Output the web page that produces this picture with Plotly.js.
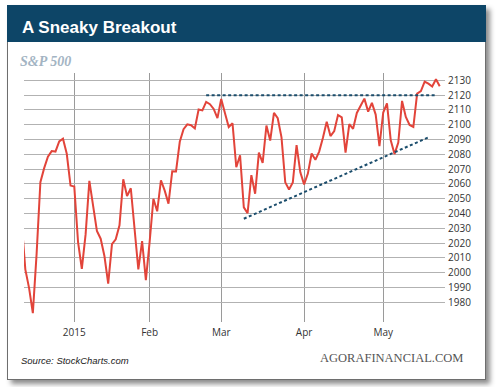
<!DOCTYPE html>
<html>
<head>
<meta charset="utf-8">
<script src="https://cdn.plot.ly/plotly-3.0.1.min.js"></script>
<style>
  html, body { margin: 0; padding: 0; background: #ffffff; }
  #wrap { position: relative; width: 500px; height: 387px; overflow: hidden; background: #ffffff; }
  #card { position: absolute; left: 7px; top: 5px; width: 479px; height: 375px; box-sizing: border-box;
          border: 1px solid #6e6e6e; background: #ffffff; box-shadow: 4px 4px 5px rgba(0,0,0,0.45); }
  #band { position: absolute; left: 7px; top: 5px; width: 479px; height: 37px; background: #0d4567; }
  #chart { position: absolute; left: 0; top: 0; width: 500px; height: 387px; }
</style>
</head>
<body>
<div id="wrap">
  <div id="card"></div>
  <div id="band"></div>
  <div id="chart"></div>
</div>
<script>
// Trading days (Dec 11, 2014 – May 22, 2015)
var dates = [
  '2014-12-11','2014-12-12','2014-12-15','2014-12-16','2014-12-17','2014-12-18','2014-12-19','2014-12-22','2014-12-23','2014-12-24','2014-12-26','2014-12-29','2014-12-30','2014-12-31',
  '2015-01-02','2015-01-05','2015-01-06','2015-01-07','2015-01-08','2015-01-09','2015-01-12','2015-01-13','2015-01-14','2015-01-15','2015-01-16','2015-01-20','2015-01-21','2015-01-22','2015-01-23','2015-01-26','2015-01-27','2015-01-28','2015-01-29','2015-01-30',
  '2015-02-02','2015-02-03','2015-02-04','2015-02-05','2015-02-06','2015-02-09','2015-02-10','2015-02-11','2015-02-12','2015-02-13','2015-02-17','2015-02-18','2015-02-19','2015-02-20','2015-02-23','2015-02-24','2015-02-25','2015-02-26','2015-02-27',
  '2015-03-02','2015-03-03','2015-03-04','2015-03-05','2015-03-06','2015-03-09','2015-03-10','2015-03-11','2015-03-12','2015-03-13','2015-03-16','2015-03-17','2015-03-18','2015-03-19','2015-03-20','2015-03-23','2015-03-24','2015-03-25','2015-03-26','2015-03-27','2015-03-30','2015-03-31',
  '2015-04-01','2015-04-02','2015-04-06','2015-04-07','2015-04-08','2015-04-09','2015-04-10','2015-04-13','2015-04-14','2015-04-15','2015-04-16','2015-04-17','2015-04-20','2015-04-21','2015-04-22','2015-04-23','2015-04-24','2015-04-27','2015-04-28','2015-04-29','2015-04-30',
  '2015-05-01','2015-05-04','2015-05-05','2015-05-06','2015-05-07','2015-05-08','2015-05-11','2015-05-12','2015-05-13','2015-05-14','2015-05-15','2015-05-18','2015-05-19','2015-05-20','2015-05-21','2015-05-22'
];
var closes = [
  2035.3, 2002.3, 1989.6, 1972.7, 2012.9, 2061.2, 2070.7, 2078.5, 2082.2, 2081.9, 2088.8, 2090.6, 2080.4, 2058.9,
  2058.2, 2020.6, 2002.6, 2025.9, 2062.1, 2044.8, 2028.3, 2023.0, 2011.3, 1992.7, 2019.4, 2022.6, 2032.1, 2063.2, 2051.8, 2057.1, 2029.6, 2002.2, 2021.3, 1995.0,
  2020.9, 2050.0, 2041.5, 2062.5, 2055.5, 2046.7, 2068.6, 2068.5, 2088.5, 2097.0, 2100.3, 2099.7, 2097.5, 2110.3, 2109.7, 2115.5, 2113.9, 2110.7, 2104.5,
  2117.4, 2107.8, 2098.5, 2101.0, 2071.3, 2079.4, 2044.2, 2040.2, 2066.0, 2053.4, 2081.2, 2074.3, 2099.5, 2089.3, 2108.1, 2104.4, 2091.5, 2061.1, 2056.2, 2061.0, 2086.2, 2067.9,
  2059.7, 2067.0, 2080.6, 2076.3, 2081.9, 2091.2, 2102.1, 2092.4, 2095.8, 2106.6, 2105.0, 2081.2, 2100.4, 2097.3, 2108.0, 2112.9, 2117.7, 2108.9, 2114.8, 2106.9, 2085.5,
  2108.3, 2114.5, 2089.5, 2080.2, 2088.0, 2116.1, 2105.3, 2099.9, 2098.5, 2121.1, 2122.7, 2129.2, 2127.8, 2125.9, 2130.8, 2126.1
];
// Trend lines drawn on the chart
var resistanceDates = ['2015-02-24', '2015-05-21'];
var resistanceLevels = [2120, 2120];
var supportDates = ['2015-03-10', '2015-05-19'];
var supportLevels = [2036.5, 2091.5];
// Axis ticks
var monthTickText = ['2015', 'Feb', 'Mar', 'Apr', 'May'];
var monthKeys = ['2015-01', '2015-02', '2015-03', '2015-04', '2015-05'];
var yTickValues = [1980, 1990, 2000, 2010, 2020, 2030, 2040, 2050, 2060, 2070, 2080, 2090, 2100, 2110, 2120, 2130];

var monthTickVals = monthKeys.map(function (k) {
  for (var i = 0; i < dates.length; i++) { if (dates[i].indexOf(k) === 0) return dates[i]; }
  return null;
});

var W = 500, H = 387;
var plotL = 24, plotR = 445, plotT = 73, plotB = 322;
function px2x(px) { return (px - plotL) / (plotR - plotL); }
function px2y(py) { return (plotB - py) / (plotB - plotT); }

var traces = [
  { x: dates, y: closes, type: 'scatter', mode: 'lines',
    line: { color: '#e2443a', width: 2 }, hoverinfo: 'skip', showlegend: false },
  { x: resistanceDates, y: resistanceLevels, type: 'scatter', mode: 'lines',
    line: { color: '#1b4d6c', width: 2, dash: '3px,2.5px' }, hoverinfo: 'skip', showlegend: false },
  { x: supportDates, y: supportLevels, type: 'scatter', mode: 'lines',
    line: { color: '#1b4d6c', width: 2, dash: '3px,2.5px' }, hoverinfo: 'skip', showlegend: false }
];

var tickFont = { family: 'Open Sans, Liberation Sans, sans-serif', size: 10, color: '#333333' };

var layout = {
  width: W, height: H,
  margin: { l: plotL, r: W - plotR, t: plotT, b: H - plotB, pad: 0 },
  paper_bgcolor: 'rgba(0,0,0,0)',
  plot_bgcolor: 'rgba(0,0,0,0)',
  title: {
    text: 'A Sneaky Breakout',
    font: { family: 'Liberation Sans, Arial, sans-serif', size: 17, color: '#ffffff', weight: 'bold' },
    xref: 'container', yref: 'container',
    x: 22 / W, xanchor: 'left',
    y: 1 - 27 / H, yanchor: 'middle'
  },
  xaxis: {
    type: 'category',
    range: [0.65, 112.4],
    tickvals: monthTickVals, ticktext: monthTickText,
    showgrid: true, gridcolor: '#9a9a9a', gridwidth: 1,
    zeroline: false, showline: false, ticks: '',
    ticklabelstandoff: 3,
    tickfont: tickFont, fixedrange: true
  },
  yaxis: {
    side: 'right',
    range: [1966.7, 2135],
    tickvals: yTickValues,
    showgrid: true, gridcolor: '#b2b2b2', gridwidth: 1,
    zeroline: false, showline: false, ticks: '',
    ticklabelstandoff: 2,
    tickfont: tickFont, fixedrange: true
  },
  annotations: [
    { text: 'S&amp;P 500', xref: 'paper', yref: 'paper', x: px2x(18), y: px2y(61),
      xanchor: 'left', yanchor: 'middle', showarrow: false,
      font: { family: 'Liberation Serif, Times New Roman, serif', size: 14, color: '#a3b4c3', style: 'italic', weight: 'bold' } },
    { text: 'Source: StockCharts.com', xref: 'paper', yref: 'paper', x: px2x(19), y: px2y(360),
      xanchor: 'left', yanchor: 'middle', showarrow: false,
      font: { family: 'Liberation Sans, Arial, sans-serif', size: 9.5, color: '#222222', style: 'italic' } },
    { text: 'AGORAFINANCIAL.COM', xref: 'paper', yref: 'paper', x: px2x(465), y: px2y(357.5),
      xanchor: 'right', yanchor: 'middle', showarrow: false,
      font: { family: 'Liberation Serif, Times New Roman, serif', size: 12.5, color: '#555555' } }
  ],
  hovermode: false,
  showlegend: false
};

Plotly.newPlot('chart', traces, layout, { staticPlot: true, displayModeBar: false });
</script>
</body>
</html>
